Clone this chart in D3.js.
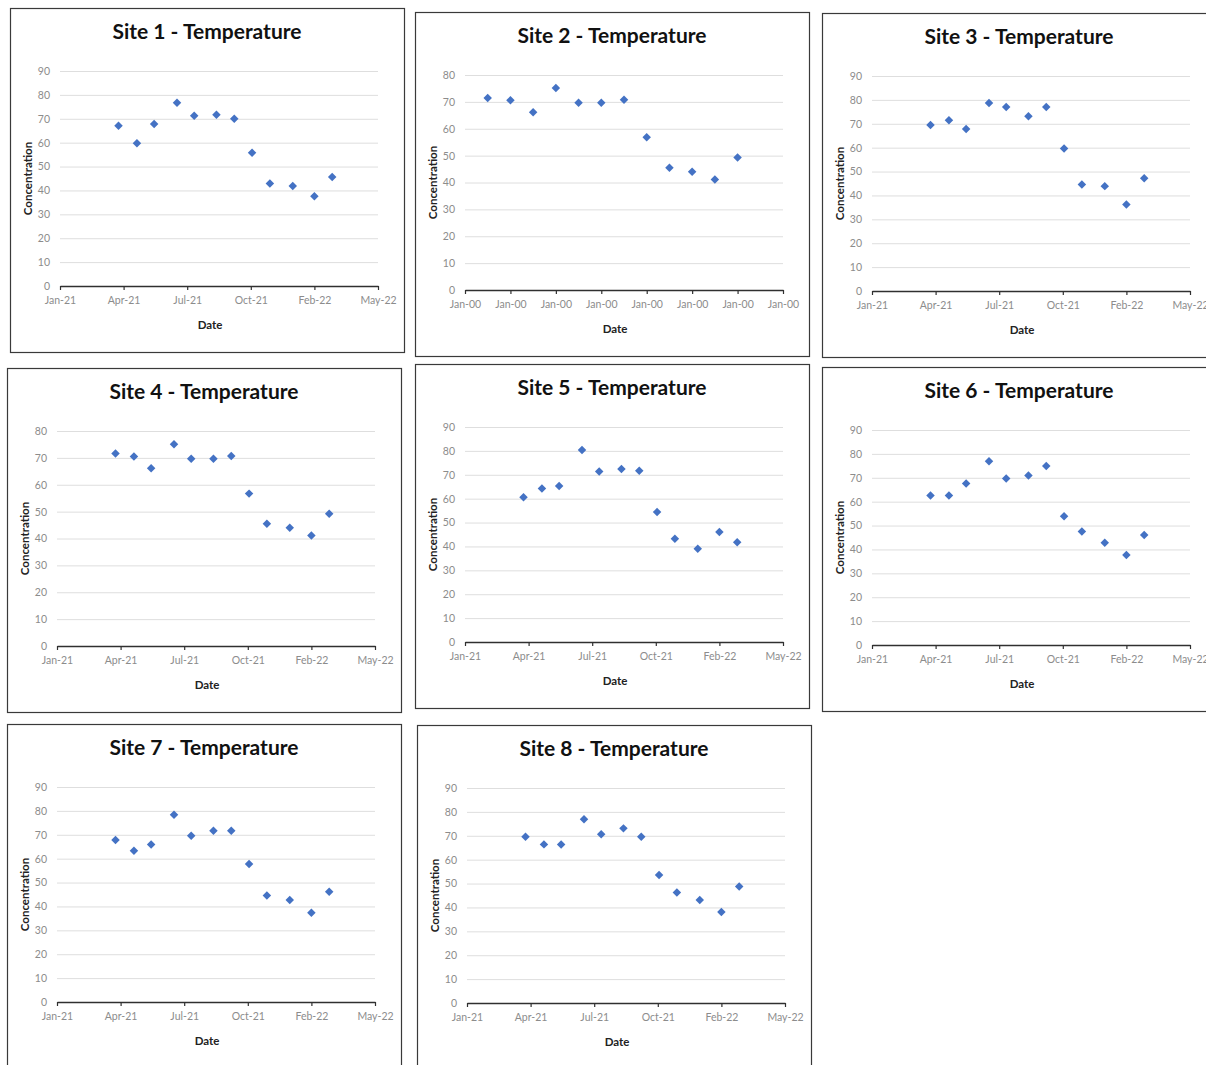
<!DOCTYPE html>
<html lang="en">
<head>
<meta charset="utf-8">
<title>Site Temperature</title>
<style>
  body { margin: 0; background: #fff; }
  svg { display: block; font-family: Lato, "Open Sans", sans-serif; }
</style>
</head>
<body>
<div id="chart"></div>

<script src="https://cdnjs.cloudflare.com/ajax/libs/d3/7.8.5/d3.min.js"></script>
<script>
// sampling dates shared by sites 1 and 3-8
var sampleDates = ["2021-04-06", "2021-05-05", "2021-06-01", "2021-07-07", "2021-08-03", "2021-09-07",
                   "2021-10-05", "2021-11-02", "2021-11-30", "2022-01-05", "2022-02-08", "2022-03-08"];
// site 2 is plotted against the sample number, so its axis reads Jan-00
var sampleNumbers = [1, 2, 3, 4, 5, 6, 7, 8, 9, 10, 11, 12];

var site1 = [67.1, 59.8, 67.8, 76.7, 71.3, 71.7, 70.0, 55.8, 42.9, 41.9, 37.6, 45.6];
var site2 = [71.4, 70.6, 66.1, 75.2, 69.7, 69.7, 70.8, 56.8, 45.5, 44.0, 41.1, 49.3];
var site3 = [69.5, 71.5, 67.8, 78.7, 77.0, 73.2, 77.0, 59.7, 44.6, 43.9, 36.2, 47.2];
var site4 = [71.6, 70.5, 66.1, 75.1, 69.7, 69.7, 70.7, 56.7, 45.5, 44.0, 41.1, 49.2];
var site5 = [60.6, 64.3, 65.3, 80.4, 71.4, 72.4, 71.7, 54.4, 43.2, 39.0, 46.0, 41.8];
var site6 = [62.6, 62.6, 67.6, 76.9, 69.7, 71.0, 74.9, 53.9, 47.5, 42.8, 37.7, 46.0];
var site7 = [67.8, 63.3, 65.9, 78.4, 69.6, 71.7, 71.7, 57.8, 44.6, 42.7, 37.4, 46.2];
var site8 = [69.6, 66.4, 66.3, 76.9, 70.6, 73.1, 69.6, 53.6, 46.3, 43.1, 38.1, 48.8];

// excel put the date ticks 100 days apart
var dateTicks = ["2021-01-04", "2021-04-14", "2021-07-23", "2021-10-31", "2022-02-08", "2022-05-19"];
var numberTicks = [0, 2, 4, 6, 8, 10, 12, 14];
var numberTickLabel = "Jan-00";
var yTicks90 = [0, 10, 20, 30, 40, 50, 60, 70, 80, 90];
var yTicks80 = [0, 10, 20, 30, 40, 50, 60, 70, 80];

var titles = ["Site 1 - Temperature", "Site 2 - Temperature", "Site 3 - Temperature", "Site 4 - Temperature",
              "Site 5 - Temperature", "Site 6 - Temperature", "Site 7 - Temperature", "Site 8 - Temperature"];
var xTitle = "Date";
var yTitle = "Concentration";

var parseDate = d3.timeParse("%Y-%m-%d");
var fmtDate = d3.timeFormat("%b-%y");

// one chart per site, [left, top] of its frame
var panels = [
    {title: titles[0], values: site1, byDate: true,  yTicks: yTicks90, pos: [10, 8]},
    {title: titles[1], values: site2, byDate: false, yTicks: yTicks80, pos: [415, 12]},
    {title: titles[2], values: site3, byDate: true,  yTicks: yTicks90, pos: [822, 13]},
    {title: titles[3], values: site4, byDate: true,  yTicks: yTicks80, pos: [7, 368]},
    {title: titles[4], values: site5, byDate: true,  yTicks: yTicks90, pos: [415, 364]},
    {title: titles[5], values: site6, byDate: true,  yTicks: yTicks90, pos: [822, 367]},
    {title: titles[6], values: site7, byDate: true,  yTicks: yTicks90, pos: [7, 724]},
    {title: titles[7], values: site8, byDate: true,  yTicks: yTicks90, pos: [417, 725]}
];

var boxW = 394, boxH = 344;
var margin = {left: 50, top: 63, right: 26, bottom: 66};
var plotW = boxW - margin.left - margin.right;
var plotH = boxH - margin.top - margin.bottom;

var svg = d3.select("#chart")
    .append("svg")
    .attr("width", 1206)
    .attr("height", 1065);

var diamond = d3.symbol().type(d3.symbolSquare).size(36);

panels.forEach(function(p) {
    var g = svg.append("g")
        .attr("transform", "translate(" + p.pos[0] + "," + p.pos[1] + ")");

    // frame
    g.append("rect")
        .attr("x", 0.5)
        .attr("y", 0.5)
        .attr("width", boxW)
        .attr("height", boxH)
        .attr("fill", "white")
        .attr("stroke", "#3a3a3a")
        .attr("stroke-width", 1.2);

    g.append("text")
        .text(p.title)
        .attr("x", boxW / 2)
        .attr("y", 31)
        .attr("text-anchor", "middle")
        .attr("font-size", "21px")
        .attr("font-weight", "bold")
        .attr("fill", "#111");

    var plot = g.append("g")
        .attr("transform", "translate(" + margin.left + "," + margin.top + ")");

    var x, xAxis, xs;
    if (p.byDate) {
        x = d3.scaleTime()
            .domain([parseDate(dateTicks[0]), parseDate(dateTicks[dateTicks.length - 1])])
            .range([0, plotW]);
        xAxis = d3.axisBottom(x)
            .tickValues(dateTicks.map(parseDate))
            .tickFormat(fmtDate);
        xs = sampleDates.map(parseDate);
    } else {
        x = d3.scaleLinear()
            .domain([numberTicks[0], numberTicks[numberTicks.length - 1]])
            .range([0, plotW]);
        xAxis = d3.axisBottom(x)
            .tickValues(numberTicks)
            .tickFormat(function() { return numberTickLabel; });
        xs = sampleNumbers;
    }

    var y = d3.scaleLinear()
        .domain([0, p.yTicks[p.yTicks.length - 1]])
        .range([plotH, 0]);

    // gridlines + value labels
    var yg = plot.append("g")
        .call(d3.axisLeft(y)
            .tickValues(p.yTicks)
            .tickSizeInner(-plotW)
            .tickSizeOuter(0)
            .tickPadding(10));
    yg.select(".domain").remove();
    yg.selectAll("line").attr("stroke", "#dedede").attr("stroke-width", 1);
    yg.selectAll("text")
        .attr("fill", "#8c8c8c")
        .attr("font-size", "10.5px")
        .attr("font-family", "Lato, sans-serif");

    var xg = plot.append("g")
        .attr("transform", "translate(0," + plotH + ")")
        .call(xAxis.tickSizeInner(4).tickSizeOuter(0).tickPadding(7));
    xg.select(".domain").attr("stroke", "#303030").attr("stroke-width", 1.4);
    xg.selectAll("line").attr("stroke", "#303030").attr("stroke-width", 1.2);
    xg.selectAll("text")
        .attr("fill", "#8c8c8c")
        .attr("font-size", "10.5px")
        .attr("font-family", "Lato, sans-serif");

    plot.selectAll("path.pt")
        .data(p.values)
        .enter()
        .append("path")
        .attr("class", "pt")
        .attr("d", diamond)
        .attr("transform", function(d, i) {
            return "translate(" + x(xs[i]) + "," + y(d) + ") rotate(45)";
        })
        .attr("fill", "#4472c4");

    g.append("text")
        .text(xTitle)
        .attr("x", boxW / 2 + 3)
        .attr("y", 321)
        .attr("text-anchor", "middle")
        .attr("font-size", "11.5px")
        .attr("font-weight", "bold")
        .attr("fill", "#222");

    g.append("text")
        .text(yTitle)
        .attr("transform", "translate(18," + (margin.top + plotH / 2) + ") rotate(-90)")
        .attr("text-anchor", "middle")
        .attr("dy", "0.35em")
        .attr("font-size", "11.5px")
        .attr("font-weight", "bold")
        .attr("fill", "#222");
});
</script>
</body>
</html>
